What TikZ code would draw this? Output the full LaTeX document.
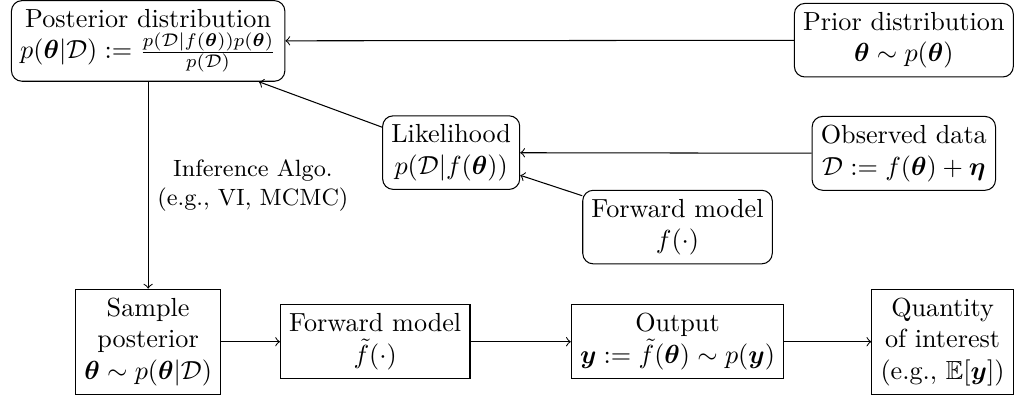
\documentclass[tikz,border=0pt]{standalone}
\usepackage{amsmath,amssymb,bm}
\begin{document}
\begin{tikzpicture}[
        rbox/.style={draw, rounded corners, align=center},
        sbox/.style={draw, align=center}
    ]
        \useasboundingbox (0,0) rectangle (13.66,-5.41);
        %\draw[gray, dashed] (0,-6) grid (14,0);

        \node[rbox] (post) at (1.99,-0.55) {Posterior distribution\\
            $p(\bm{\theta}|\mathcal{D}) := \frac{p(\mathcal{D}|f(\bm{\theta}))p(\bm{\theta})}{p(\mathcal{D})}$};
        \node[rbox] (prior) at (12.14,-0.54) {Prior distribution\\ $\bm{\theta}\sim p(\bm{\theta})$};
        \node[rbox] (lik) at (6.06,-2.05) {Likelihood\\ $p(\mathcal{D}|f(\bm{\theta}))$};
        \node[rbox] (obs) at (12.14,-2.06) {Observed data\\ $\mathcal{D} := f(\bm{\theta}) + \bm{\eta}$};
        \node[rbox] (fwd) at (9.10,-3.05) {Forward model\\ $f(\cdot)$};

        \node[sbox] (samp) at (1.99,-4.59) {Sample\\ posterior\\ $\bm{\theta}\sim p(\bm{\theta}|\mathcal{D})$};
        \node[sbox] (fwdt) at (5.04,-4.59) {Forward model\\ $\tilde{f}(\cdot)$};
        \node[sbox] (out) at (9.10,-4.59) {Output\\ $\bm{y} := \tilde{f}(\bm{\theta}) \sim p(\bm{y})$};
        \node[sbox] (qoi) at (12.66,-4.59) {Quantity\\ of interest\\ (e.g., $\mathbb{E}[\bm{y}]$)};

        \draw[->] (prior) -- (post);
        \draw[->] (lik) -- (post);
        \draw[->] (obs) -- (lik);
        \draw[->] (fwd) -- (lik);
        \draw[->] (post) -- node[right, align=center, font=\small]{Inference Algo.\\ (e.g., VI, MCMC)} (samp);
        \draw[->] (samp) -- (fwdt);
        \draw[->] (fwdt) -- (out);
        \draw[->] (out) -- (qoi);
\end{tikzpicture}
\end{document}
